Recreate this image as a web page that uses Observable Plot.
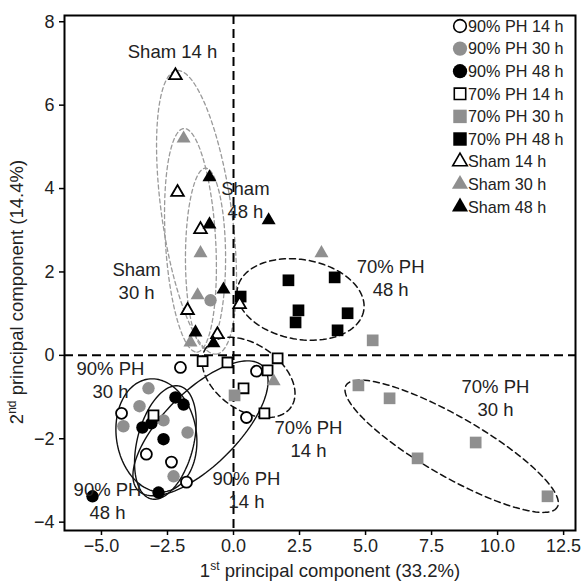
<!DOCTYPE html>
<html><head><meta charset="utf-8">
<script src="https://cdn.jsdelivr.net/npm/d3@7"></script>
<script src="https://cdn.jsdelivr.net/npm/@observablehq/plot@0.6"></script>
<style>
body{margin:0;background:#fff;font-family:"Liberation Sans",Arial,sans-serif}
#wrap{position:relative;width:585px;height:581px}
</style>
</head><body><div id="wrap"></div>
<script>
// ---- data ----
const groups = ["90% PH 14 h","90% PH 30 h","90% PH 48 h","70% PH 14 h","70% PH 30 h","70% PH 48 h","Sham 14 h","Sham 30 h","Sham 48 h"];

const pc1_ph90_14 = [-2.01,-4.24,-3.30,-2.35,-1.78,0.87,0.49];
const pc2_ph90_14 = [-0.29,-1.39,-2.37,-2.56,-3.04,-0.38,-1.49];
const pc1_ph90_30 = [-3.22,-3.56,-4.17,-2.65,-1.74,-2.27,-0.87];
const pc2_ph90_30 = [-0.79,-1.22,-1.70,-1.56,-1.85,-2.90,1.32];
const pc1_ph90_48 = [-2.20,-1.89,-3.11,-3.45,-2.65,-2.84,-5.34];
const pc2_ph90_48 = [-1.01,-1.18,-1.63,-1.73,-2.01,-3.29,-3.38];
const pc1_ph70_14 = [-3.03,-1.17,-0.23,0.38,1.17,1.29,1.67];
const pc2_ph70_14 = [-1.44,-0.14,-0.17,-0.79,-1.39,-0.36,-0.07];
const pc1_ph70_30 = [0.04,4.73,5.91,5.27,6.97,9.17,11.89];
const pc2_ph70_30 = [-0.96,-0.72,-1.03,0.36,-2.47,-2.09,-3.38];
const pc1_ph70_48 = [0.27,2.08,3.83,2.46,2.35,4.32,3.94];
const pc2_ph70_48 = [1.41,1.80,1.87,1.08,0.79,1.01,0.60];
const pc1_sham_14 = [-2.20,-2.12,-1.25,-1.74,-0.61,0.23];
const pc2_sham_14 = [6.71,3.91,3.02,1.08,0.50,1.22];
const pc1_sham_30 = [-1.89,-1.25,-1.36,-1.63,3.33,1.52];
const pc2_sham_30 = [5.20,2.45,1.44,0.31,2.45,-0.62];
const pc1_sham_48 = [-0.91,-0.91,-0.38,-1.44,-0.76,1.33];
const pc2_sham_48 = [4.27,3.14,1.58,0.55,0.29,3.24];

const pc1 = [pc1_ph90_14,pc1_ph90_30,pc1_ph90_48,pc1_ph70_14,pc1_ph70_30,pc1_ph70_48,pc1_sham_14,pc1_sham_30,pc1_sham_48];
const pc2 = [pc2_ph90_14,pc2_ph90_30,pc2_ph90_48,pc2_ph70_14,pc2_ph70_30,pc2_ph70_48,pc2_sham_14,pc2_sham_30,pc2_sham_48];

// ellipses: centre and two conjugate semi-axis vectors (data units)
const ellipseNames = ["Sham 14 h","Sham 30 h","Sham 48 h","70% PH 14 h","70% PH 30 h","70% PH 48 h","90% PH 14 h","90% PH 30 h","90% PH 48 h"];
const ellipseCx = [-1.40,-1.63,-1.06,0.57,8.26,2.54,-1.25,-2.92,-2.58];
const ellipseCy = [3.43,2.76,2.33,-0.53,-2.18,1.34,-1.75,-1.92,-2.09];
const ellipseUx = [0.76,0.25,0.00,1.61,4.00,2.39,2.36,0.32,0.55];
const ellipseUy = [-3.40,-2.68,-2.16,-0.71,-1.46,-0.27,1.49,-1.35,1.35];
const ellipseVx = [1.31,0.95,0.76,-0.71,-0.57,-0.27,0.99,1.50,1.03];
const ellipseVy = [0.12,0.04,0.00,-0.65,-0.62,-0.94,-0.63,0.14,-0.17];

const labelText = ["Sham 14 h","Sham\n48 h","Sham\n30 h","70% PH\n48 h","90% PH\n30 h","70% PH\n14 h","90% PH\n14 h","90% PH\n48 h","70% PH\n30 h"];
const labelX = [-2.31,0.45,-3.67,5.95,-4.66,2.84,0.49,-4.77,9.92];
const labelY = [7.31,3.74,1.80,1.87,-0.58,-1.99,-3.21,-3.48,-1.01];

const xTicks = [-5,-2.5,0,2.5,5,7.5,10,12.5];
const yTicks = [-4,-2,0,2,4,6,8];

// ---- styles ----
const GREY = "#8f8f8f";
const shapeOf = g => g.startsWith("90") ? "circle" : g.startsWith("70") ? "square" : "triangle";
const fillOf = g => g.includes("14") ? "white" : g.includes("30") ? GREY : "black";
const rOf = (shape, open) => shape === "circle" ? (open ? 5.5 : 6.2) : shape === "square" ? (open ? 5.6 : 6.6) : (open ? 4.7 : 5.2);

// ---- build tables ----
const points = groups.flatMap((g, i) => pc1[i].map((x, j) => ({group: g, x, y: pc2[i][j]})));
const N = 120;
const ellipsePts = ellipseNames.flatMap((name, i) => d3.range(N + 1).map(k => {
  const t = 2 * Math.PI * k / N;
  return {name, kind: name.startsWith("Sham") ? "sham" : name.startsWith("70") ? "ph70" : "ph90",
    x: ellipseCx[i] + ellipseUx[i] * Math.cos(t) + ellipseVx[i] * Math.sin(t),
    y: ellipseCy[i] + ellipseUy[i] * Math.cos(t) + ellipseVy[i] * Math.sin(t)};
}));
const labels = labelText.map((t, i) => ({t, x: labelX[i], y: labelY[i]}));

const dotMarks = groups.map(g => {
  const shape = shapeOf(g), fill = fillOf(g), open = fill === "white";
  return Plot.dot(points.filter(d => d.group === g), {
    x: "x", y: "y", symbol: shape, r: rOf(shape, open), fill,
    stroke: open ? "black" : "none", strokeWidth: open ? 1.8 : 0
  });
});

const plot = Plot.plot({
  width: 585, height: 581,
  marginLeft: 64, marginRight: 10, marginTop: 15, marginBottom: 51,
  style: {fontFamily: "'Liberation Sans', Arial, sans-serif", fontSize: "17px", color: "#222", background: "white"},
  x: {domain: [-6.4, 12.95], label: null},
  y: {domain: [-4.2, 8.15], label: null},
  marks: [
    Plot.line(ellipsePts.filter(d => d.kind === "sham"), {x: "x", y: "y", z: "name", stroke: "#9a9a9a", strokeWidth: 1.3, strokeDasharray: "4,3"}),
    Plot.line(ellipsePts.filter(d => d.kind === "ph70"), {x: "x", y: "y", z: "name", stroke: "#111", strokeWidth: 1.5, strokeDasharray: "6,4"}),
    Plot.line(ellipsePts.filter(d => d.kind === "ph90"), {x: "x", y: "y", z: "name", stroke: "#111", strokeWidth: 1.4}),
    Plot.ruleX([0], {stroke: "black", strokeWidth: 2, strokeDasharray: "9,5"}),
    Plot.ruleY([0], {stroke: "black", strokeWidth: 2, strokeDasharray: "9,5"}),
    ...dotMarks,
    Plot.text(labels, {x: "x", y: "y", text: "t", fontSize: 18.5, fill: "#222", lineHeight: 1.25, lineAnchor: "middle"}),
    Plot.axisX({ticks: xTicks, tickFormat: d3.format(".1f"), tickSize: 5, tickPadding: 4, fontSize: 18, stroke: "black", strokeWidth: 1.5, fill: "#222", label: null}),
    Plot.axisY({ticks: yTicks, tickFormat: d3.format("d"), tickSize: 5, tickPadding: 5, fontSize: 18, stroke: "black", strokeWidth: 1.5, fill: "#222", label: null}),
    Plot.frame({stroke: "black", strokeWidth: 2})
  ]
});

document.getElementById("wrap").appendChild(plot);

// ---- axis titles with superscripts, and legend ----
const svg = d3.select(plot);
const xt = svg.append("text").attr("x", 330).attr("y", 577).attr("text-anchor", "middle")
  .attr("fill", "#222").style("font-size", "18.5px");
xt.append("tspan").text("1");
xt.append("tspan").attr("dy", -7).style("font-size", "12px").text("st");
xt.append("tspan").attr("dy", 7).text(" principal component (33.2%)");

const yt = svg.append("text").attr("transform", "translate(23,292) rotate(-90)").attr("text-anchor", "middle")
  .attr("fill", "#222").style("font-size", "18.5px");
yt.append("tspan").text("2");
yt.append("tspan").attr("dy", -7).style("font-size", "12px").text("nd");
yt.append("tspan").attr("dy", 7).text(" principal component (14.4%)");

const leg = svg.append("g").attr("transform", "translate(460,26)");
groups.forEach((g, i) => {
  const shape = shapeOf(g), fill = fillOf(g), open = fill === "white";
  const sym = shape === "circle" ? d3.symbolCircle : shape === "square" ? d3.symbolSquare : d3.symbolTriangle;
  const r = rOf(shape, open) * 1.15;
  const row = leg.append("g").attr("transform", `translate(0,${i * 22.6})`);
  row.append("path").attr("d", d3.symbol(sym, Math.PI * r * r)())
    .attr("fill", fill).attr("stroke", open ? "black" : "none").attr("stroke-width", open ? 1.6 : 0);
  row.append("text").attr("x", 8).attr("dy", "0.36em").attr("text-anchor", "start")
    .attr("fill", "#222").style("font-size", "16.2px").text(g);
});
</script>
</body></html>
